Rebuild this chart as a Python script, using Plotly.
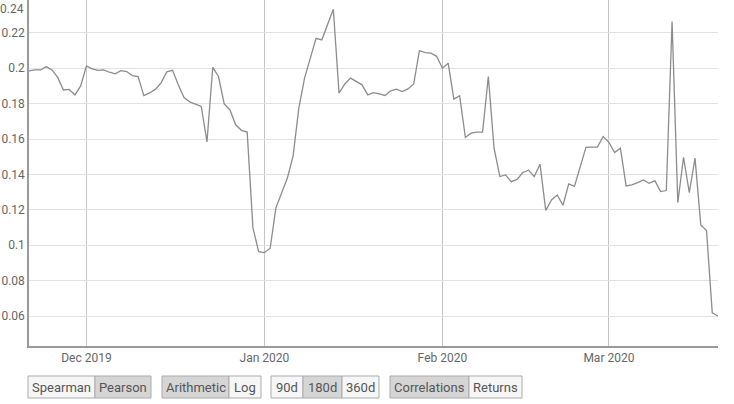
import pandas as pd
import plotly.graph_objects as go

# ---- data ----
start_date = "2019-11-21"
correlation = [
    0.1985, 0.1990, 0.1990, 0.2009, 0.1990, 0.1948, 0.1877, 0.1880, 0.1849, 0.1900,
    0.2013, 0.1996, 0.1988, 0.1990, 0.1977, 0.1968, 0.1986, 0.1981, 0.1958, 0.1953,
    0.1845, 0.1860, 0.1880, 0.1917, 0.1979, 0.1988, 0.1906, 0.1834, 0.1810, 0.1798,
    0.1784, 0.1584, 0.2005, 0.1953, 0.1798, 0.1764, 0.1680, 0.1649, 0.1639, 0.1098,
    0.0964, 0.0958, 0.0983, 0.1211, 0.1294, 0.1380, 0.1505, 0.1776, 0.1945, 0.2064,
    0.2169, 0.2160, 0.2245, 0.2333, 0.1859, 0.1911, 0.1944, 0.1924, 0.1906, 0.1849,
    0.1862, 0.1855, 0.1846, 0.1872, 0.1881, 0.1868, 0.1883, 0.1911, 0.2099, 0.2088,
    0.2085, 0.2067, 0.2000, 0.2028, 0.1825, 0.1844, 0.1609, 0.1633, 0.1639, 0.1639,
    0.1953, 0.1548, 0.1388, 0.1397, 0.1359, 0.1372, 0.1411, 0.1424, 0.1388, 0.1458,
    0.1197, 0.1256, 0.1284, 0.1226, 0.1347, 0.1332, 0.1443, 0.1553, 0.1554, 0.1554,
    0.1614, 0.1581, 0.1524, 0.1548, 0.1335, 0.1341, 0.1354, 0.1369, 0.1350, 0.1365,
    0.1303, 0.1309, 0.2263, 0.1241, 0.1497, 0.1297, 0.1492, 0.1115, 0.1083, 0.0618,
    0.0601,
]
dates = pd.date_range(start_date, periods=len(correlation), freq="D")

x_tick_vals = ["2019-12-01", "2020-01-01", "2020-02-01", "2020-03-01"]
x_tick_text = ["Dec 2019", "Jan 2020", "Feb 2020", "Mar 2020"]
y_tick_vals = [0.06, 0.08, 0.10, 0.12, 0.14, 0.16, 0.18, 0.20, 0.22]
y_tick_text = ["0.06", "0.08", "0.1", "0.12", "0.14", "0.16", "0.18", "0.2", "0.22"]
y_top_label = "0.24"

button_groups = [
    ["Spearman", "Pearson"],
    ["Arithmetic", "Log"],
    ["90d", "180d", "360d"],
    ["Correlations", "Returns"],
]
active_buttons = [1, 0, 1, 0]

# ---- layout geometry (pixels) ----
W, H = 734, 404
ML, MR, MT, MB = 29, 16, 0, 58
PW, PH = W - ML - MR, H - MT - MB
FONT = "Roboto, sans-serif"


def px_x(px):
    return (px - ML) / PW


def px_y(py):
    return (H - MB - py) / PH


fig = go.Figure()
fig.add_trace(go.Scatter(
    x=dates, y=correlation, mode="lines",
    line=dict(color="#8c8c8c", width=1.3),
    hoverinfo="x+y", showlegend=False,
))

shapes = []
annotations = []
group_edges = [
    [28, 95, 151],
    [162, 229, 261],
    [271, 303, 342, 379],
    [390, 469, 522],
]
btn_top, btn_bot = 376, 398
for labels, edges, act in zip(button_groups, group_edges, active_buttons):
    for k, lab in enumerate(labels):
        x0, x1 = edges[k], edges[k + 1]
        shapes.append(dict(
            type="rect", xref="paper", yref="paper",
            x0=px_x(x0), x1=px_x(x1), y0=px_y(btn_bot), y1=px_y(btn_top),
            fillcolor="#d5d5d5" if k == act else "#f6f6f6",
            line=dict(color="#ababab", width=1), layer="above",
        ))
        annotations.append(dict(
            text=lab, xref="paper", yref="paper",
            x=px_x((x0 + x1) / 2), y=px_y((btn_top + btn_bot) / 2),
            xanchor="center", yanchor="middle", showarrow=False,
            font=dict(family=FONT, size=13, color="#555555"),
        ))

# top tick label (its gridline lies just above the visible area)
annotations.append(dict(
    text=y_top_label, xref="paper", yref="paper", x=0, y=1,
    xanchor="right", yanchor="top", xshift=-3, yshift=0, showarrow=False,
    font=dict(family=FONT, size=12, color="#666666"),
))

fig.update_layout(
    width=W, height=H,
    margin=dict(l=ML, r=MR, t=MT, b=MB, pad=0),
    paper_bgcolor="white", plot_bgcolor="white",
    font=dict(family=FONT, size=12, color="#666666"),
    shapes=shapes, annotations=annotations,
    xaxis=dict(
        range=[dates[0], dates[-1]],
        tickvals=x_tick_vals, ticktext=x_tick_text,
        showgrid=True, gridcolor="#c4c4c4", gridwidth=1,
        showline=True, linecolor="#9a9a9a", linewidth=1.5,
        ticks="", zeroline=False,
        tickfont=dict(family=FONT, size=12, color="#666666"),
    ),
    yaxis=dict(
        range=[0.0431, 0.2385],
        tickvals=y_tick_vals, ticktext=y_tick_text,
        showgrid=True, gridcolor="#e2e2e2", gridwidth=1,
        showline=True, linecolor="#9a9a9a", linewidth=1.5,
        ticks="", zeroline=False,
        tickfont=dict(family=FONT, size=12, color="#666666"),
    ),
)

fig.write_html(
    "out.html",
    config={"displayModeBar": False},
    post_script="document.body.style.margin='0';",
)
